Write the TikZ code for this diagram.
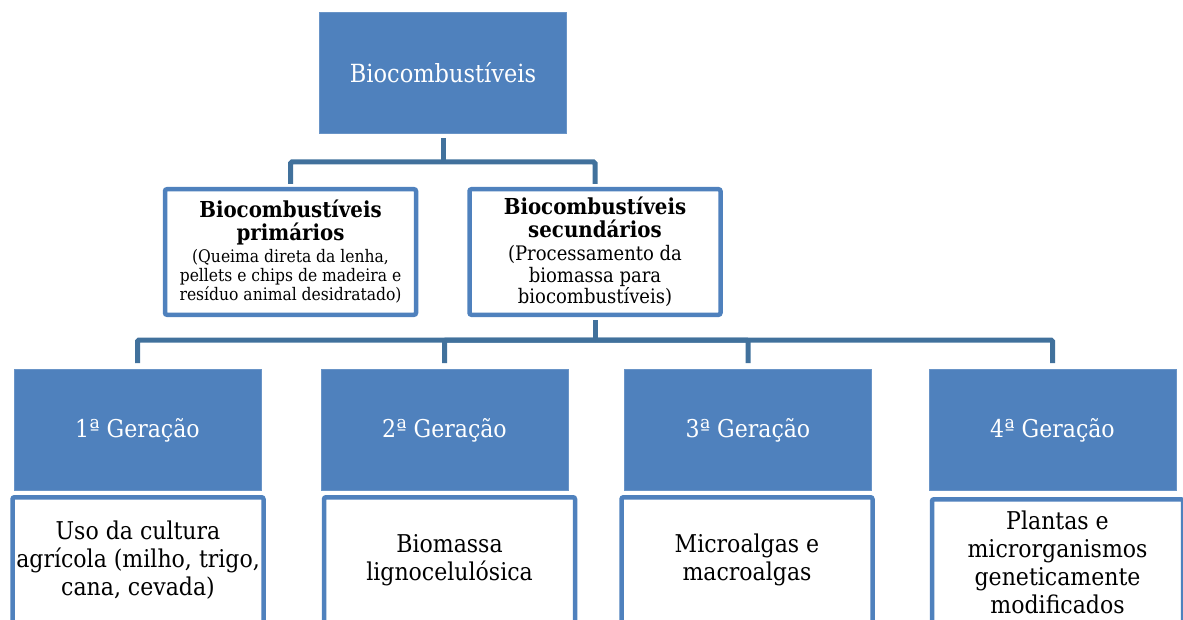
\documentclass[tikz,border=0pt]{standalone}
\usepackage{fontspec}
\setmainfont{DejaVu Serif Condensed}
\definecolor{boxblue}{HTML}{4F81BD}
\definecolor{linkblue}{HTML}{41719C}
\newcommand\subsz{\fontsize{17.3}{19.5}\selectfont}
\newcommand\subszb{\fontsize{20}{22}\selectfont}
\tikzset{
  bluebox/.style={rectangle, fill=boxblue, draw=boxblue!85!white, line width=0.6pt,
    text=white, minimum width=247pt, minimum height=121pt, inner sep=0pt, align=center},
  whitebox/.style={rectangle, fill=white, draw=boxblue, line width=4.5pt,
    rounded corners=2pt, minimum width=251pt, minimum height=125.5pt, inner sep=0pt, align=center},
  conn/.style={draw=linkblue, line width=5pt, rounded corners=1.5pt},
  bigfont/.style={font=\fontsize{25}{28}\selectfont},
  genfont/.style={font=\fontsize{24.5}{28}\selectfont},
  titlefont/.style={font=\fontsize{22}{23}\selectfont},
}
\begin{document}
\begin{tikzpicture}[x=1pt,y=-1pt]
  \useasboundingbox (0,0) rectangle (1183,620);
  \clip (0,0) rectangle (1183,620);

  % root
  \node[bluebox, bigfont] (root) at (443,72.5) {Biocombustíveis};

  % first split
  \node[whitebox, titlefont] (prim) at (290.5,252)
    {\textbf{Biocombustíveis}\\\textbf{primários}\\[-1pt]
     {\subsz(Queima direta da lenha,}\\[-4pt]
     {\subsz pellets e chips de madeira e}\\[-4pt]
     {\subsz resíduo animal desidratado)}};
  \node[whitebox, titlefont] (sec) at (595,252)
    {\textbf{Biocombustíveis}\\\textbf{secundários}\\
     {\subszb(Processamento da}\\[-1pt]
     {\subszb biomassa para}\\[-2pt]
     {\subszb biocombustíveis)}};

  % generations
  \node[bluebox, genfont] (g1) at (137.5,430) {1ª Geração};
  \node[bluebox, genfont] (g2) at (444.5,430) {2ª Geração};
  \node[bluebox, genfont] (g3) at (748,430)   {3ª Geração};
  \node[bluebox, genfont] (g4) at (1052.5,430) {4ª Geração};

  % feedstock of each generation
  \node[whitebox, genfont] (d1) at (138,560)   {Uso da cultura\\agrícola (milho, trigo,\\cana, cevada)};
  \node[whitebox, genfont] (d2) at (449.5,560) {Biomassa\\lignocelulósica};
  \node[whitebox, genfont] (d3) at (747,560)   {Microalgas e\\macroalgas};
  \node[whitebox, genfont] (d4) at (1057.5,562) {Plantas e\\microrganismos\\geneticamente\\modificados};

  % connectors
  \coordinate (j1) at (443,162);
  \coordinate (j2) at (595,340);
  \draw[conn, shorten <=5pt] (root.south) -- (j1);
  \draw[conn, shorten <=3pt, shorten >=3pt] (prim.north) |- (j1) -| (sec.north);
  \draw[conn, shorten <=3pt] (sec.south) -- (j2);
  \draw[conn, shorten <=6pt, shorten >=6pt] (g1.north) |- (j2) -| (g4.north);
  \draw[conn, shorten <=6pt] (g2.north) |- (j2);
  \draw[conn, shorten <=6pt] (g3.north) |- (j2);
\end{tikzpicture}
\end{document}
